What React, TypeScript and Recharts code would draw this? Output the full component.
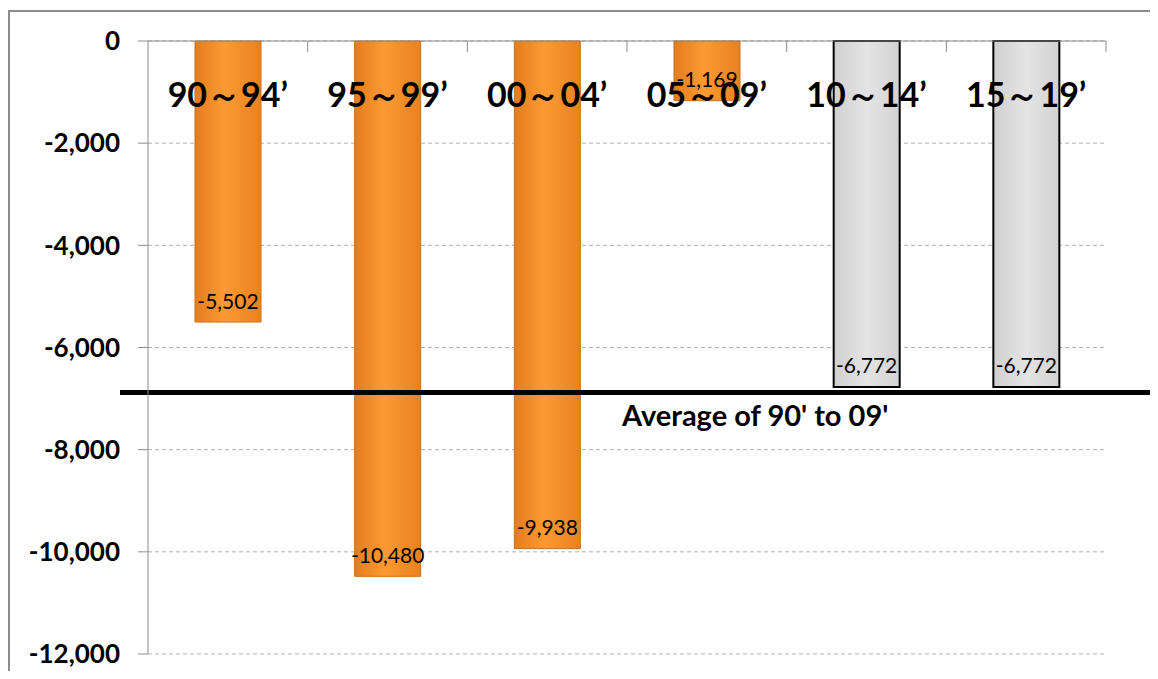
import { BarChart, Bar, XAxis, YAxis, CartesianGrid, Cell, LabelList, ReferenceLine } from "recharts";

const periods = ["90～94’", "95～99’", "00～04’", "05～09’", "10～14’", "15～19’"];
const balances = [-5502, -10480, -9938, -1169, -6772, -6772];
const projected = [false, false, false, false, true, true];
const yTicks = [0, -2000, -4000, -6000, -8000, -10000, -12000];
const averageLevel = -6880;
const averageLabel = "Average of 90' to 09'";

const FONT = "Lato, 'Noto Sans', sans-serif";

const data = periods.map((period, i) => ({ period, value: balances[i], projected: projected[i] }));

const fmt = (v: number) => v.toLocaleString("en-US");

// category label drawn inside the plot + boundary tick like the Excel original
const PeriodTick = (props: any) => {
  const { x, y, payload } = props;
  const half = payload.offset ?? 0;
  return (
    <g>
      <line x1={x + half} x2={x + half} y1={y} y2={y + 11} stroke="#8c8c8c" />
      <text x={x} y={y + 66} textAnchor="middle" fontSize={34} fontWeight="bold" fontFamily={FONT} fill="#000">
        {payload.value}
      </text>
    </g>
  );
};

const ValueLabel = (props: any) => {
  const { x, y, width, height, value } = props;
  const bottom = Math.max(y, y + height);
  return (
    <text x={x + width / 2} y={bottom - 22} textAnchor="middle" dominantBaseline="central" fontSize={21} fontFamily={FONT} fill="#000">
      {fmt(value)}
    </text>
  );
};

const AverageShape = (props: any) => {
  const { x1, y1, x2, y2 } = props;
  return <line x1={x1 - 28} x2={x2 + 60} y1={y1} y2={y2} stroke="#000" strokeWidth={5} />;
};

const AverageLabel = (props: any) => {
  const { viewBox } = props;
  return (
    <text x={viewBox.x + 474} y={viewBox.y + 22} dominantBaseline="central" fontSize={29} fontWeight="bold" fontFamily={FONT} fill="#000">
      {averageLabel}
    </text>
  );
};

export default function App() {
  return (
    <div style={{ position: "relative", width: 1158, height: 679, margin: -8, overflow: "hidden", background: "#fff" }}>
      <div style={{ position: "absolute", left: 8, top: 10, width: 1170, height: 700, border: "2px solid #8c8c8c", boxSizing: "border-box" }} />
      <div style={{ position: "absolute", left: 0, top: 0 }}>
        <BarChart width={1158} height={679} data={data} margin={{ top: 40, right: 52, bottom: 25, left: 0 }}>
          <defs>
            <linearGradient id="orangeFill" x1="0" y1="0" x2="1" y2="0">
              <stop offset="0%" stopColor="#e47d1c" />
              <stop offset="45%" stopColor="#fb9a32" />
              <stop offset="100%" stopColor="#e8821f" />
            </linearGradient>
            <linearGradient id="grayFill" x1="0" y1="0" x2="1" y2="0">
              <stop offset="0%" stopColor="#d0d0d0" />
              <stop offset="50%" stopColor="#e4e4e4" />
              <stop offset="100%" stopColor="#d2d2d2" />
            </linearGradient>
          </defs>
          <CartesianGrid vertical={false} strokeDasharray="4 3" stroke="#b0b0b0" />
          <YAxis
            width={148}
            domain={[-12000, 0]}
            ticks={yTicks}
            interval={0}
            tickFormatter={fmt}
            tickSize={10}
            tickMargin={18}
            axisLine={{ stroke: "#8c8c8c" }}
            tickLine={{ stroke: "#8c8c8c" }}
            tick={{ fontSize: 26, fontWeight: "bold", fill: "#000", fontFamily: FONT }}
          />
          <Bar dataKey="value" barSize={66} isAnimationActive={false}>
            {data.map((d, i) => (
              <Cell
                key={i}
                fill={d.projected ? "url(#grayFill)" : "url(#orangeFill)"}
                stroke={d.projected ? "#000" : "#c8711c"}
                strokeWidth={d.projected ? 2 : 1}
              />
            ))}
            <LabelList dataKey="value" content={ValueLabel} />
          </Bar>
          <XAxis
            dataKey="period"
            orientation="top"
            height={1}
            interval={0}
            tickSize={0}
            tickMargin={0}
            tickLine={false}
            axisLine={{ stroke: "#8c8c8c" }}
            tick={PeriodTick}
          />
          <ReferenceLine y={averageLevel} shape={AverageShape} label={AverageLabel} ifOverflow="visible" />
        </BarChart>
      </div>
    </div>
  );
}
